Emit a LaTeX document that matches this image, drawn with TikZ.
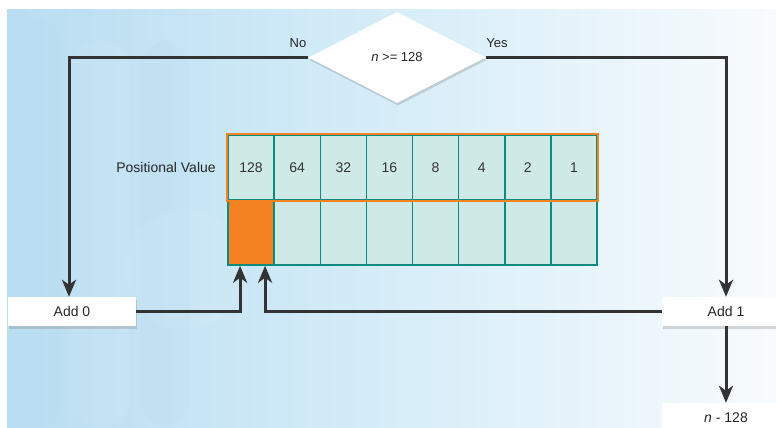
\documentclass[tikz,border=0pt]{standalone}
\usepackage{fontspec}
\setmainfont{Liberation Sans}
\usetikzlibrary{shapes.geometric,arrows.meta,shadows}
\definecolor{tealb}{HTML}{0E8A7E}
\definecolor{cellf}{HTML}{CFE9E6}
\definecolor{org}{HTML}{F58220}
\definecolor{ln}{HTML}{333333}
\definecolor{bgl}{HTML}{B9DDF1}
\definecolor{bgm}{HTML}{D6EDF8}
\definecolor{bgr}{HTML}{F8FBFD}
\begin{document}
\begin{tikzpicture}[x=1pt,y=-1pt,
  conn/.style={draw=ln, line width=3pt, -{Stealth[length=17pt,width=14pt,inset=5pt]}},
  cell/.style={draw=tealb, line width=1.5pt, fill=cellf, minimum width=46.125pt,
    minimum height=65pt, inner sep=0pt, font=\fontsize{14}{16}\selectfont, text=black!80},
  box/.style={fill=white, minimum width=128pt, minimum height=29pt, inner sep=0pt,
    font=\fontsize{14}{16}\selectfont, text=black!85},
  shad/.style={drop shadow={shadow xshift=1pt, shadow yshift=-2.5pt, opacity=0.3}},
  lab/.style={font=\fontsize{13}{15}\selectfont, text=black!85}]
\useasboundingbox (0,0) rectangle (776,428);
\fill[white] (0,0) rectangle (776,428);
\shade[left color=bgl, right color=bgr, middle color=bgm] (7,10) rectangle (776,428);
% faint background decorations
\fill[bgl, opacity=0.25, rounded corners=25pt] (10,20) rectangle (60,428);
\fill[white, opacity=0.06, rounded corners=30pt] (70,40) rectangle (130,428);
\fill[bgl, opacity=0.2, rounded corners=30pt] (140,40) rectangle (190,428);
\fill[white, opacity=0.06] (185,270) circle (60);
% decision
\node[diamond, fill=white, minimum width=177pt, minimum height=91pt, inner sep=0pt,
  shad, font=\fontsize{13}{15}\selectfont, text=black!85] (dia) at (397,57.5) {\textit{n} >= 128};
\node[lab] (no) at (298,43) {No};
\node[lab] (yes) at (497,43) {Yes};
% table
\foreach \v [count=\i from 0] in {128,64,32,16,8,4,2,1}
  \node[cell] (t\i) at (251.06+46.125*\i,167.5) {\v};
\foreach \i in {0,...,7}
  \node[cell] (b\i) at (251.06+46.125*\i,232.5) {};
\node[cell, fill=org] (b0o) at (b0) {};
\draw[org, line width=2pt] (t0.north west) rectangle (t7.south east);
\node[anchor=east, font=\fontsize{14}{16}\selectfont, text=black!85] (pv) at ([xshift=-8pt]t0.west) {Positional Value};
% boxes
\node[box, shad] (add0) at (72,311.5) {Add 0};
\node[box, shad] (add1) at (726,311.5) {Add 1};
\node[box, minimum height=30pt] (res) at (726,418) {\textit{n} - 128};
% connectors
\coordinate (in0) at ([xshift=-11pt]b0.south);
\coordinate (in1) at ([xshift=14pt]b0.south);
\draw[conn] (dia.west) -| ([xshift=-3pt]add0.north);
\draw[conn] (dia.east) -| (add1.north);
\draw[conn] (add0.east) -| (in0);
\draw[conn] (add1.west) -| (in1);
\draw[conn] (add1.south) -- (res.north);
\end{tikzpicture}
\end{document}
